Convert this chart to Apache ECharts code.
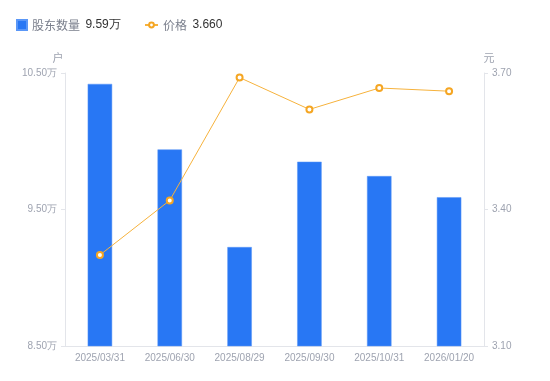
<!DOCTYPE html>
<html><head><meta charset="utf-8">
<script src="https://cdn.jsdelivr.net/npm/echarts@6/dist/echarts.min.js"></script>
<style>html,body{margin:0;padding:0;background:#fff}#c{width:550px;height:381px}</style>
</head><body><div id="c"></div>
<script>
const categories = ['2025/03/31','2025/06/30','2025/08/29','2025/09/30','2025/10/31','2026/01/20'];
const holders = [10.42, 9.94, 9.225, 9.85, 9.745, 9.59];
const prices = [3.30, 3.42, 3.69, 3.62, 3.667, 3.66];
const holderTicks = [8.5, 10.5, 1];
const priceTicks = [3.1, 3.7, 0.3];

const chart = echarts.init(document.getElementById('c'));
const labelColor = '#9ea3b0';
const legendText = {rich: {a: {color: '#7a7f8c', fontSize: 12}, b: {color: '#333', fontSize: 12, fontFamily: 'Liberation Sans, sans-serif'}}};
chart.setOption({
  animation: false,
  textStyle: {fontFamily: 'Noto Sans CJK SC, Liberation Sans, sans-serif'},
  legend: [{
    left: 11, top: 14, itemWidth: 10, itemHeight: 10,
    data: [{name: '股东数量', icon: 'rect'}],
    formatter: n => '{a|' + n + '}  {b|' + holders[holders.length-1].toFixed(2) + '万}',
    textStyle: legendText
  }, {
    left: 139, top: 14, itemWidth: 13, itemHeight: 6, itemGap: 5,
    data: [{name: '价格'}],
    formatter: n => '{a|' + n + '}  {b|' + prices[prices.length-1].toFixed(3) + '}',
    textStyle: legendText
  }],
  grid: {left: 65, right: 66, top: 73, bottom: 35},
  xAxis: {
    type: 'category', data: categories,
    axisLine: {lineStyle: {color: '#e3e5ea'}},
    axisTick: {show: false},
    axisLabel: {color: labelColor, fontSize: 10, margin: 7, fontFamily: 'Liberation Sans, sans-serif'}
  },
  yAxis: [{
    type: 'value', name: '户', min: holderTicks[0], max: holderTicks[1], interval: holderTicks[2],
    nameTextStyle: {color: labelColor, fontSize: 11, padding: [0, 14, 0, 0]}, nameGap: 10,
    axisLine: {show: true, lineStyle: {color: '#e3e5ea'}},
    axisTick: {show: true, length: 4, lineStyle: {color: '#e3e5ea'}},
    splitLine: {show: false},
    axisLabel: {color: labelColor, fontSize: 10, margin: 8, fontFamily: 'Liberation Sans, sans-serif',
      formatter: v => v.toFixed(2) + '万'}
  }, {
    type: 'value', name: '元', min: priceTicks[0], max: priceTicks[1], interval: priceTicks[2],
    nameTextStyle: {color: labelColor, fontSize: 11, padding: [0, 0, 0, 10]}, nameGap: 10,
    axisLine: {show: true, lineStyle: {color: '#e3e5ea'}},
    axisTick: {show: true, length: 4, lineStyle: {color: '#e3e5ea'}},
    splitLine: {show: false},
    axisLabel: {color: labelColor, fontSize: 10, margin: 8, fontFamily: 'Liberation Sans, sans-serif',
      formatter: v => v.toFixed(2)}
  }],
  series: [{
    name: '股东数量', type: 'bar', data: holders, barWidth: '35%',
    itemStyle: {color: '#2877f4', borderColor: '#5a97f7', borderWidth: 0.5}
  }, {
    name: '价格', type: 'line', yAxisIndex: 1, data: prices,
    symbol: 'circle', symbolSize: 6,
    lineStyle: {color: '#f6b23c', width: 1},
    itemStyle: {color: '#fff', borderColor: '#f5a623', borderWidth: 2}
  }]
});
</script></body></html>
